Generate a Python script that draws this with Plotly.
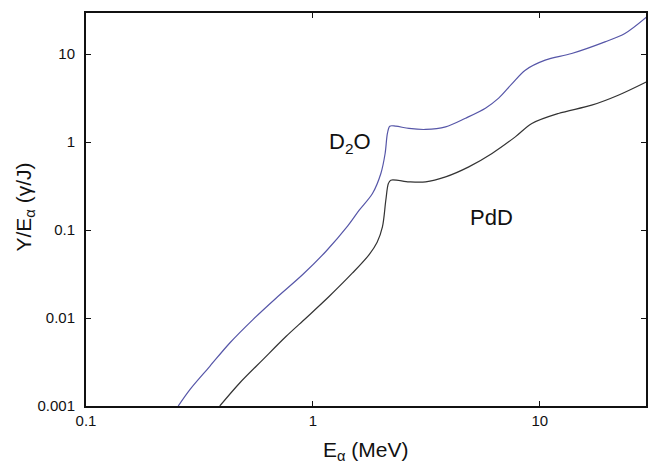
import plotly.graph_objects as go

# D2O curve (blue)
d2o_E = [0.2549, 0.2870, 0.3513, 0.4301, 0.5441, 0.6895, 0.9020, 1.1426, 1.4214, 1.600, 1.830,
         1.993, 2.081, 2.130, 2.182, 2.318, 2.652, 3.140, 3.843, 4.705, 5.759, 6.587, 7.511,
         8.628, 10.56, 13.82, 19.37, 23.71, 29.49]
d2o_Y = [0.001, 0.001537, 0.002829, 0.005208, 0.009614, 0.01693, 0.03126, 0.05754, 0.1108, 0.1684, 0.2608,
         0.4405, 0.7437, 1.256, 1.521, 1.521, 1.432, 1.395, 1.494, 1.875, 2.436, 3.166, 4.568,
         6.594, 8.568, 10.21, 13.84, 17.24, 26.43]

# PdD curve (black)
pdd_E = [0.3887, 0.4757, 0.6019, 0.7627, 0.9335, 1.181, 1.495, 1.770, 1.919, 2.025, 2.096, 2.151,
         2.204, 2.652, 3.140, 3.843, 4.864, 6.157, 7.798, 9.224, 12.08, 16.92, 22.16, 29.49]
pdd_Y = [0.001, 0.001827, 0.003372, 0.006207, 0.01003, 0.0177, 0.03258, 0.05278, 0.07283, 0.1087, 0.2189, 0.3389,
         0.3695, 0.3535, 0.3535, 0.4029, 0.5236, 0.7437, 1.149, 1.632, 2.121, 2.636, 3.424, 4.853]

x_ticks = [0.1, 1, 10]
x_ticktext = ["0.1", "1", "10"]
y_ticks = [0.001, 0.01, 0.1, 1, 10]
y_ticktext = ["0.001", "0.01", "0.1", "1", "10"]

font_family = "Liberation Sans, Arial, sans-serif"

fig = go.Figure()
fig.add_trace(go.Scatter(x=d2o_E, y=d2o_Y, mode="lines",
                         line=dict(color="#5656a8", width=1.2, shape="spline", smoothing=0.9), name="D2O"))
fig.add_trace(go.Scatter(x=pdd_E, y=pdd_Y, mode="lines",
                         line=dict(color="#333333", width=1.2, shape="spline", smoothing=0.9), name="PdD"))

fig.update_layout(
    width=652, height=463,
    margin=dict(l=86, r=4, t=13, b=57),
    plot_bgcolor="white", paper_bgcolor="white",
    showlegend=False,
    font=dict(family=font_family, color="#111111", size=15),
)
fig.update_xaxes(type="log", range=[-1, 1.468], tickvals=x_ticks, ticktext=x_ticktext,
                 showgrid=False, zeroline=False, showline=True, linecolor="#111111", linewidth=2,
                 mirror="ticks", ticks="inside", ticklen=5, tickwidth=1, tickcolor="#111111",
                 tickfont=dict(size=15))
fig.update_yaxes(type="log", range=[-3, 1.469], tickvals=y_ticks, ticktext=y_ticktext,
                 showgrid=False, zeroline=False, showline=True, linecolor="#111111", linewidth=2,
                 mirror="ticks", ticks="inside", ticklen=5, tickwidth=1, tickcolor="#111111",
                 tickfont=dict(size=15), ticklabelstandoff=6)

fig.add_annotation(text="E<sub>α</sub> (MeV)", xref="paper", yref="paper", x=0.5, y=0,
                   xanchor="center", yanchor="middle", yshift=-45, showarrow=False,
                   font=dict(size=21))
fig.add_annotation(text="Y/E<sub>α</sub> (γ/J)", xref="paper", yref="paper", x=0, y=0.5,
                   xanchor="center", yanchor="middle", xshift=-62, yshift=2, textangle=-90, showarrow=False,
                   font=dict(size=21))
# annotation positions on log axes are given in log10 units
fig.add_annotation(text="D<sub>2</sub>O", x=0.165, y=-0.011, xref="x", yref="y", xanchor="center", yanchor="middle",
                   showarrow=False, font=dict(size=22))
fig.add_annotation(text="PdD", x=0.788, y=-0.853, xref="x", yref="y", xanchor="center", yanchor="middle",
                   showarrow=False, font=dict(size=22))

fig.write_html("out.html", config={"displayModeBar": False},
               post_script="document.body.style.margin='0';document.body.style.padding='0';")
